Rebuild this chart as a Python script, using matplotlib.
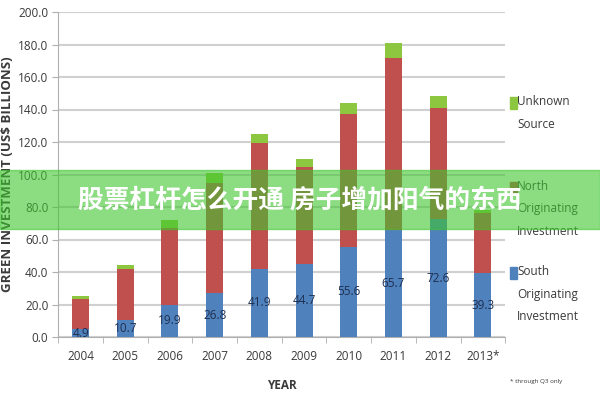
import matplotlib.pyplot as plt
from matplotlib.patches import Rectangle

plt.rcParams['font.family'] = ['Open Sans', 'DejaVu Sans']

years = ['2004', '2005', '2006', '2007', '2008', '2009', '2010', '2011', '2012', '2013*']
south = [4.9, 10.7, 19.9, 26.8, 41.9, 44.7, 55.6, 65.7, 72.6, 39.3]
north = [18.5, 31.1, 47.0, 68.0, 77.5, 60.0, 81.6, 106.0, 68.4, 37.0]
unknown = [1.6, 2.5, 5.0, 6.0, 5.5, 4.9, 6.8, 9.0, 7.3, 2.0]

series_names = ['South\nOriginating\nInvestment', 'North\nOriginating\nInvestment', 'Unknown\nSource']
colors = ['#4F81BD', '#C0504D', '#8DC63F']
text_color = '#3a3a3a'

fig = plt.figure(figsize=(6, 4), dpi=100)
ax = fig.add_axes([0.097, 0.1575, 0.745, 0.8125])

x = list(range(len(years)))
w = 0.38
ax.bar(x, south, w, color=colors[0], zorder=3)
ax.bar(x, north, w, bottom=south, color=colors[1], zorder=3)
bottom3 = [a + b for a, b in zip(south, north)]
ax.bar(x, unknown, w, bottom=bottom3, color=colors[2], zorder=3)

for xi, v in zip(x, south):
    ax.text(xi, v / 2, f'{v:.1f}', ha='center', va='center', fontsize=8.5,
            color='#1f2f4f', zorder=4)

ax.set_xlim(-0.5, len(years) - 0.5)
ax.set_ylim(0, 200)
ax.set_yticks(range(0, 201, 20))
ax.set_yticklabels([f'{v:.1f}' for v in range(0, 201, 20)])
ax.set_xticks(x)
ax.set_xticklabels(years)
ax.set_xticks([i + 0.5 for i in range(-1, len(years))], minor=True)
ax.tick_params(axis='x', which='major', length=0, pad=9, labelsize=8.5, labelcolor=text_color)
ax.tick_params(axis='x', which='minor', length=4, color='#b0b0b0')
ax.tick_params(axis='y', length=4, color='#b0b0b0', labelsize=8.5, labelcolor=text_color, pad=3)

ax.grid(axis='y', color='#d0d0d0', linewidth=1.5, zorder=0)
for s in ['top', 'right']:
    ax.spines[s].set_visible(False)
ax.spines['left'].set_color('#b0b0b0')
ax.spines['bottom'].set_color('#b0b0b0')

ax.set_ylabel('GREEN INVESTMENT (US$ BILLIONS)', fontsize=9.5, fontweight='bold',
              color=text_color, labelpad=3)
ax.set_xlabel('YEAR', fontsize=8.5, fontweight='bold', color=text_color, labelpad=12)

# legend at the right, marker aligned with the first line of each label
legend_tops = {'Unknown\nSource': 0.25, 'North\nOriginating\nInvestment': 0.462,
               'South\nOriginating\nInvestment': 0.675}
for name, col in zip(series_names, colors):
    ytop = legend_tops[name]
    fig.patches.append(Rectangle((0.85, 1 - ytop - 0.022), 0.012, 0.03,
                                 transform=fig.transFigure, color=col, figure=fig))
    fig.text(0.862, 1 - ytop + 0.012, name, fontsize=8.5, color=text_color,
             va='top', ha='left', linespacing=1.95)

fig.text(0.85, 0.043, '* through Q3 only', fontsize=4.5, color=text_color)

# semi-transparent banner
fig.patches.append(Rectangle((0, 0.4275), 1, 0.1475, transform=fig.transFigure,
                             color='#3fc52f', alpha=0.6, zorder=10, figure=fig))
fig.text(0.5, 0.5, '股票杠杆怎么开通 房子增加阳气的东西', ha='center', va='center',
         fontsize=18.5, fontweight='bold', color='white', zorder=11,
         family=['Noto Sans CJK SC', 'DejaVu Sans'])

fig.savefig('out.png', dpi=100)
